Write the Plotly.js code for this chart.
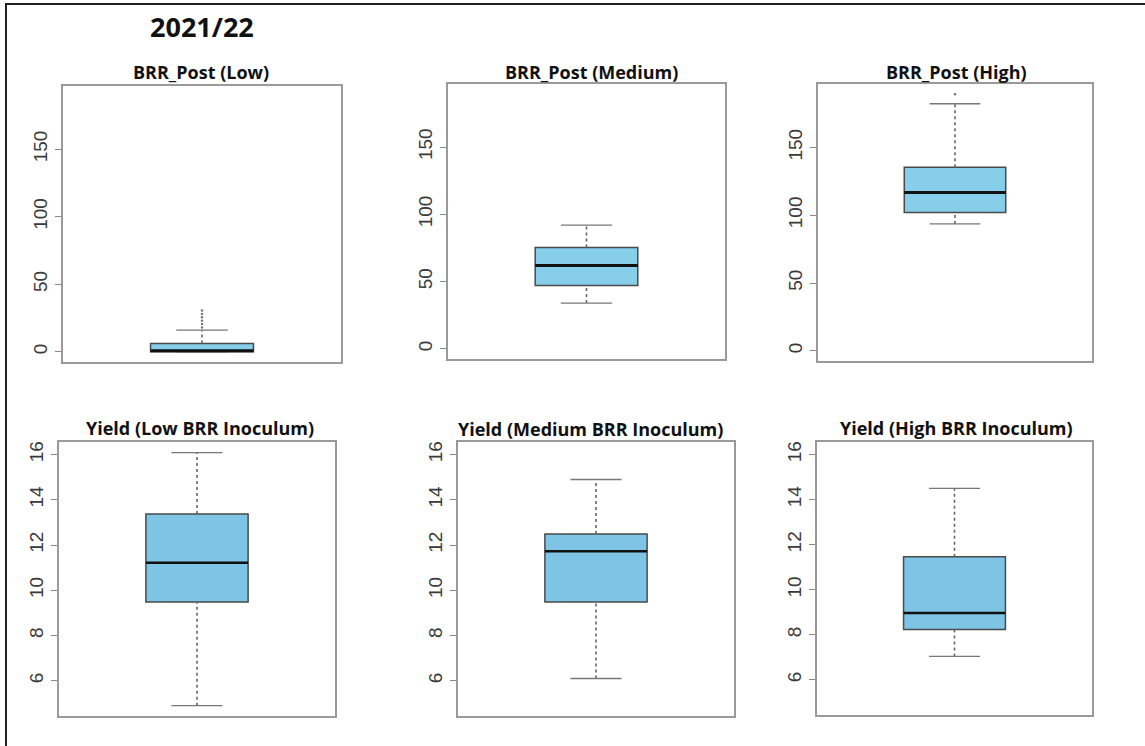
<!DOCTYPE html>
<html>
<head>
<meta charset="utf-8">
<script src="https://cdn.plot.ly/plotly-3.0.1.min.js"></script>
<style>html,body{margin:0;padding:0;background:#fff;}#chart{width:1145px;height:746px;}</style>
</head>
<body>
<div id="chart"></div>
<script>
// ---- data ----
const figureTitle = '2021/22';
const panelTitles = ['BRR_Post (Low)', 'BRR_Post (Medium)', 'BRR_Post (High)',
  'Yield (Low BRR Inoculum)', 'Yield (Medium BRR Inoculum)', 'Yield (High BRR Inoculum)'];
const lowerWhisker = [0, 34, 93.6, 4.9, 6.1, 7.04];
const q1 = [0, 47.1, 102, 9.48, 9.48, 8.24];
const median = [0.8, 61.9, 116.8, 11.22, 11.73, 8.97];
const q3 = [6.2, 75.3, 135.5, 13.37, 12.49, 11.47];
const upperWhisker = [16.1, 92, 182.3, 16.09, 14.9, 14.5];
const outliers = [[18, 20.5, 23, 25.5, 28, 30.5], [], [189.3], [], [], []];
const brrTicks = [0, 50, 100, 150];
const yieldTicks = [6, 8, 10, 12, 14, 16];
const brrLimits = [0, 189.3];
const yieldLimits = [4.89, 16.11];

// ---- layout constants ----
const W = 1145, H = 746;
// panel pixel boxes [left, top, right, bottom]
const boxes = [
  [63, 86, 341, 362], [448, 84, 725, 359], [818, 84, 1092, 361],
  [59, 442, 335, 716], [458, 442, 734, 716], [817, 442, 1092, 715]
];
const titlePos = [[200.5, 71.5], [591, 71.5], [956.5, 71.5], [200, 427.5], [590.5, 429], [956.7, 428]];
const boxWidth = 0.4;
const fillTop = '#87CEEB', fillBottom = '#7EC4E4';

function rExtend(lim) { const d = lim[1] - lim[0]; return [lim[0] - 0.04 * d, lim[1] + 0.04 * d]; }

const traces = [];
const layout = {
  width: W, height: H,
  margin: {l: 0, r: 0, t: 0, b: 0},
  paper_bgcolor: '#fff', plot_bgcolor: '#fff',
  showlegend: false,
  annotations: [],
  shapes: [
    {type: 'line', xref: 'paper', yref: 'paper', x0: 5 / W, x1: 1, y0: 1 - 4 / H, y1: 1 - 4 / H, line: {color: '#222', width: 2}},
    {type: 'line', xref: 'paper', yref: 'paper', x0: 6 / W, x1: 6 / W, y0: 0, y1: 1 - 4 / H, line: {color: '#222', width: 2}}
  ]
};

layout.annotations.push({
  text: '<b>' + figureTitle + '</b>', xref: 'paper', yref: 'paper',
  x: 201.7 / W, y: 1 - 26.5 / H, xanchor: 'center', yanchor: 'middle', showarrow: false,
  font: {family: 'Open Sans, sans-serif', size: 27, color: '#111'}
});

for (let i = 0; i < 6; i++) {
  const n = i + 1;
  const xa = 'x' + (n === 1 ? '' : n), ya = 'y' + (n === 1 ? '' : n);
  const xk = 'xaxis' + (n === 1 ? '' : n), yk = 'yaxis' + (n === 1 ? '' : n);
  const b = boxes[i];
  const top = i < 3;
  const ticks = top ? brrTicks : yieldTicks;
  const range = rExtend(top ? brrLimits : yieldLimits);

  layout[xk] = {
    domain: [b[0] / W, b[2] / W], anchor: ya, range: [-0.54, 0.54],
    showticklabels: false, ticks: '', showgrid: false, zeroline: false,
    showline: true, mirror: true, linecolor: '#9a9a9a', linewidth: 2, fixedrange: true
  };
  layout[yk] = {
    domain: [1 - b[3] / H, 1 - b[1] / H], anchor: xa, range: range,
    tickmode: 'array', tickvals: ticks, ticktext: ticks.map(String),
    ticks: 'outside', ticklen: 6, tickwidth: 1, tickcolor: '#888',
    tickangle: -90, tickfont: {family: 'Liberation Sans, Arial, sans-serif', size: 19, color: '#3a3a3a'},
    showgrid: false, zeroline: false,
    showline: true, mirror: true, linecolor: '#9a9a9a', linewidth: 2, fixedrange: true
  };

  // box body (quartiles)
  traces.push({
    type: 'box', x: [0], q1: [q1[i]], median: [median[i]], q3: [q3[i]],
    lowerfence: [q1[i]], upperfence: [q3[i]], width: boxWidth,
    fillcolor: top ? fillTop : fillBottom, line: {color: '#4a4a4a', width: 1.5},
    boxpoints: false, whiskerwidth: 0, hoverinfo: 'skip', xaxis: xa, yaxis: ya
  });
  // whiskers (dotted)
  traces.push({type: 'scatter', mode: 'lines', x: [0, 0], y: [q3[i], upperWhisker[i]],
    line: {color: '#666', width: 1.6, dash: 'dot'}, hoverinfo: 'skip', xaxis: xa, yaxis: ya});
  traces.push({type: 'scatter', mode: 'lines', x: [0, 0], y: [lowerWhisker[i], q1[i]],
    line: {color: '#666', width: 1.6, dash: 'dot'}, hoverinfo: 'skip', xaxis: xa, yaxis: ya});
  // staples
  [upperWhisker[i], lowerWhisker[i]].forEach(v => {
    traces.push({type: 'scatter', mode: 'lines', x: [-boxWidth / 4, boxWidth / 4], y: [v, v],
      line: {color: '#777', width: 1.3}, hoverinfo: 'skip', xaxis: xa, yaxis: ya});
  });
  // median
  traces.push({type: 'scatter', mode: 'lines', x: [-boxWidth / 2, boxWidth / 2], y: [median[i], median[i]],
    line: {color: '#111', width: top ? 3 : 2.5}, hoverinfo: 'skip', xaxis: xa, yaxis: ya});
  // outliers
  if (outliers[i].length) {
    traces.push({type: 'scatter', mode: 'markers', x: outliers[i].map(() => 0), y: outliers[i],
      marker: {color: '#777', size: 2.5}, hoverinfo: 'skip', xaxis: xa, yaxis: ya});
  }
  // panel title
  layout.annotations.push({
    text: '<b>' + panelTitles[i] + '</b>', xref: 'paper', yref: 'paper',
    x: titlePos[i][0] / W, y: 1 - titlePos[i][1] / H, xanchor: 'center', yanchor: 'middle',
    showarrow: false, font: {family: 'Open Sans, sans-serif', size: 18, color: '#111'}
  });
}

Plotly.newPlot('chart', traces, layout, {displayModeBar: false, staticPlot: true});
</script>
</body>
</html>
